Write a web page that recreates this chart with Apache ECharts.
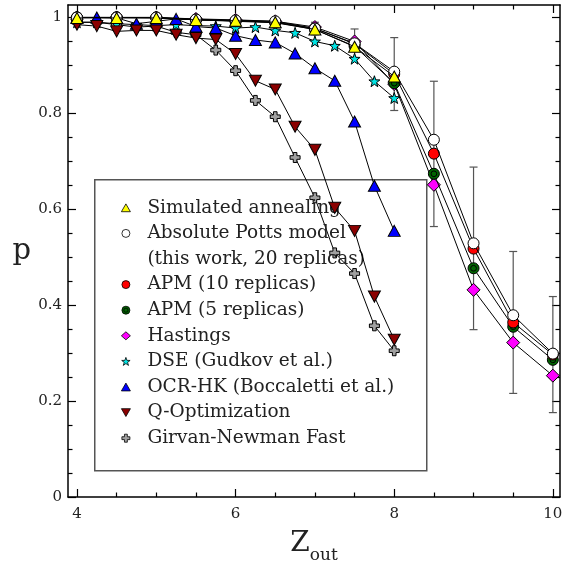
<!DOCTYPE html>
<html>
<head>
<meta charset="utf-8">
<script src="https://cdn.jsdelivr.net/npm/echarts@6/dist/echarts.min.js"></script>
<style>
  html, body { margin: 0; padding: 0; background: #fff; }
  #chart { width: 572px; height: 561px; }
</style>
</head>
<body>
<div id="chart"></div>
<script>
// Z_out grids: half-step sweep (APM runs) and quarter-step sweep (other methods)
const zHalf = [4, 4.5, 5, 5.5, 6, 6.5, 7, 7.5, 8, 8.5, 9, 9.5, 10];
const zQuarter = [4, 4.25, 4.5, 4.75, 5, 5.25, 5.5, 5.75, 6, 6.25, 6.5, 6.75, 7, 7.25, 7.5, 7.75, 8];

// fraction of correctly identified nodes, p
const simAnnealing = [0.999, 0.999, 0.999, 0.995, 0.993, 0.990, 0.975, 0.939, 0.877];
const apm20 = [1.000, 1.000, 1.000, 0.996, 0.994, 0.992, 0.977, 0.946, 0.887, 0.745, 0.529, 0.379, 0.299];
const apm10 = [1.000, 1.000, 1.000, 0.995, 0.993, 0.990, 0.977, 0.945, 0.882, 0.716, 0.518, 0.364, 0.297];
const apm5 = [1.000, 1.000, 0.999, 0.995, 0.992, 0.989, 0.975, 0.940, 0.863, 0.674, 0.477, 0.355, 0.286];
const hastings = [1.000, 1.000, 1.000, 0.997, 0.995, 0.992, 0.980, 0.950, 0.861, 0.651, 0.432, 0.322, 0.253];
const dse = [0.990, 0.990, 0.987, 0.985, 0.983, 0.985, 0.983, 0.982, 0.978, 0.980, 0.973, 0.968, 0.950, 0.941, 0.914, 0.867, 0.832];
const ocrHk = [1.000, 1.000, 0.999, 0.987, 0.992, 0.997, 0.981, 0.978, 0.962, 0.953, 0.948, 0.925, 0.894, 0.868, 0.783, 0.649, 0.555];
const qOpt = [0.985, 0.982, 0.971, 0.973, 0.973, 0.964, 0.957, 0.954, 0.924, 0.868, 0.850, 0.772, 0.724, 0.603, 0.555, 0.418, 0.328];
const girvanNewman = [0.990, 0.990, 0.985, 0.980, 0.982, 0.969, 0.964, 0.932, 0.889, 0.827, 0.793, 0.708, 0.624, 0.509, 0.466, 0.357, 0.305];

// error bars on APM (10 replicas)
const errZ = [6.5, 7, 7.5, 8, 8.5, 9, 9.5, 10];
const errLow = [0.982, 0.964, 0.915, 0.806, 0.564, 0.349, 0.216, 0.176];
const errHigh = [0.998, 0.990, 0.976, 0.958, 0.867, 0.688, 0.512, 0.418];

// axis ticks
const xMajor = [4, 6, 8, 10];
const xMinor = [4.5, 5, 5.5, 6.5, 7, 7.5, 8.5, 9, 9.5];
const yMajor = [0, 0.2, 0.4, 0.6, 0.8, 1];
const yMinor = [0.05, 0.1, 0.15, 0.25, 0.3, 0.35, 0.45, 0.5, 0.55, 0.65, 0.7, 0.75, 0.85, 0.9, 0.95];

const FONT = 'DejaVu Serif';
const X_MIN = 3.887, X_MAX = 10.09, Y_MIN = 0, Y_MAX = 1.026;

const SYM = {
  triUp: 'path://M5,0L10,8.7L0,8.7Z',
  triDown: 'path://M0,0L10,0L5,8.7Z',
  circle: 'circle',
  ring: 'path://M0,5A5,5,0,1,1,10,5A5,5,0,1,1,0,5Z M2.4,5A2.6,2.6,0,1,1,7.6,5A2.6,2.6,0,1,1,2.4,5Z',
  diamond: 'diamond',
  star: 'path://M5,0L6.18,3.38L9.76,3.45L6.9,5.62L7.94,9.05L5,7L2.06,9.05L3.1,5.62L0.24,3.45L3.82,3.38Z',
  cross: 'path://M3.2,0H6.8V3.2H10V6.8H6.8V10H3.2V6.8H0V3.2H3.2Z'
};

const COLORS = {
  sa: '#ffff00', apm20: '#ffffff', apm10: '#ff0000', apm5: '#006400', hast: '#ff00ff',
  dse: '#00e5e5', ocr: '#0000ff', qopt: '#8b0000', gn: '#a0a0a0'
};

function pairs(xs, ys) { return ys.map((y, i) => [xs[i], y]); }

function lineSeries(name, xs, ys, symbol, size, color, z) {
  return {
    name, type: 'line', data: pairs(xs, ys), symbol, symbolSize: size,
    showAllSymbol: true, clip: false, z,
    lineStyle: { color: '#000', width: 1 },
    itemStyle: { color, borderColor: '#000', borderWidth: 1 },
    emphasis: { disabled: true }
  };
}

function xAxisDef(position, ticks, len, withLine, withLabels) {
  return {
    type: 'value', position, min: X_MIN, max: X_MAX,
    axisLine: { show: withLine, onZero: false, lineStyle: { color: '#000', width: 1.5 } },
    axisTick: { show: true, inside: true, length: len, customValues: ticks, lineStyle: { color: '#000', width: 1.2 } },
    axisLabel: withLabels
      ? { show: true, customValues: ticks, margin: 10, fontFamily: FONT, fontSize: 15, color: '#222' }
      : { show: false },
    splitLine: { show: false }
  };
}

function yAxisDef(position, ticks, len, withLine, withLabels) {
  return {
    type: 'value', position, min: Y_MIN, max: Y_MAX,
    axisLine: { show: withLine, onZero: false, lineStyle: { color: '#000', width: 1.5 } },
    axisTick: { show: true, inside: true, length: len, customValues: ticks, lineStyle: { color: '#000', width: 1.2 } },
    axisLabel: withLabels
      ? { show: true, customValues: ticks, margin: 6, fontFamily: FONT, fontSize: 15, color: '#222',
          formatter: v => String(+v.toFixed(1)) }
      : { show: false },
    splitLine: { show: false }
  };
}

const xAxes = [
  xAxisDef('bottom', xMajor, 8, true, true),
  xAxisDef('bottom', xMinor, 4.5, false, false),
  xAxisDef('top', xMajor, 8, true, false),
  xAxisDef('top', xMinor, 4.5, false, false)
];
xAxes[0].name = '{z|Z}{s|out}';
xAxes[0].nameLocation = 'middle';
xAxes[0].nameGap = 33;
xAxes[0].nameTextStyle = {
  rich: {
    z: { fontFamily: FONT, fontSize: 28, color: '#222', verticalAlign: 'bottom' },
    s: { fontFamily: FONT, fontSize: 17, color: '#222', verticalAlign: 'bottom', padding: [0, 0, -6, 0] }
  }
};

const yAxes = [
  yAxisDef('left', yMajor, 8, true, true),
  yAxisDef('left', yMinor, 4.5, false, false),
  yAxisDef('right', yMajor, 8, true, false),
  yAxisDef('right', yMinor, 4.5, false, false)
];
yAxes[0].name = 'p';
yAxes[0].nameLocation = 'middle';
yAxes[0].nameRotate = 0;
yAxes[0].nameGap = 37;
yAxes[0].nameTextStyle = { fontFamily: FONT, fontSize: 29, color: '#222' };

const errorSeries = {
  type: 'custom', name: 'errorbars', z: 1, clip: false,
  data: errZ.map((z, i) => [z, errLow[i], errHigh[i]]),
  encode: { x: 0, y: [1, 2] },
  renderItem(params, api) {
    const z = api.value(0);
    const lo = api.coord([z, api.value(1)]);
    const hi = api.coord([z, api.value(2)]);
    const w = 4;
    const st = { stroke: '#555', lineWidth: 1.2 };
    return {
      type: 'group',
      children: [
        { type: 'line', shape: { x1: hi[0], y1: hi[1], x2: lo[0], y2: lo[1] }, style: st },
        { type: 'line', shape: { x1: hi[0] - w, y1: hi[1], x2: hi[0] + w, y2: hi[1] }, style: st },
        { type: 'line', shape: { x1: lo[0] - w, y1: lo[1], x2: lo[0] + w, y2: lo[1] }, style: st }
      ]
    };
  }
};

const NAMES = {
  sa: 'Simulated annealing',
  apm20: 'Absolute Potts model',
  apm20b: '(this work, 20 replicas)',
  apm10: 'APM (10 replicas)',
  apm5: 'APM (5 replicas)',
  hast: 'Hastings',
  dse: 'DSE (Gudkov et al.)',
  ocr: 'OCR-HK (Boccaletti et al.)',
  qopt: 'Q-Optimization',
  gn: 'Girvan-Newman Fast'
};

const series = [
  errorSeries,
  lineSeries(NAMES.gn, zQuarter, girvanNewman, SYM.cross, 10, COLORS.gn, 2),
  lineSeries(NAMES.dse, zQuarter, dse, SYM.star, 11, COLORS.dse, 3),
  lineSeries(NAMES.ocr, zQuarter, ocrHk, SYM.triUp, [12, 11], COLORS.ocr, 4),
  lineSeries(NAMES.qopt, zQuarter, qOpt, SYM.triDown, [12, 11], COLORS.qopt, 5),
  lineSeries(NAMES.hast, zHalf, hastings, SYM.diamond, 13, COLORS.hast, 6),
  lineSeries(NAMES.apm5, zHalf, apm5, SYM.ring, 11, COLORS.apm5, 7),
  lineSeries(NAMES.apm10, zHalf, apm10, SYM.circle, 11, COLORS.apm10, 8),
  lineSeries(NAMES.apm20, zHalf, apm20, SYM.circle, 11, COLORS.apm20, 9),
  lineSeries(NAMES.sa, zHalf.slice(0, simAnnealing.length), simAnnealing, SYM.triUp, [12, 11], COLORS.sa, 10),
  { name: NAMES.apm20b, type: 'line', data: [] }
];

function legendItem(name, icon, color) {
  const item = { name, icon };
  if (color) item.itemStyle = { color, borderColor: '#000', borderWidth: 0.8 };
  return item;
}

const chart = echarts.init(document.getElementById('chart'), null, { renderer: 'canvas' });
chart.setOption({
  animation: false,
  backgroundColor: '#fff',
  textStyle: { fontFamily: FONT },
  grid: { left: 68, right: 12, top: 5, bottom: 64, containLabel: false, outerBoundsMode: 'none' },
  xAxis: xAxes,
  yAxis: yAxes,
  graphic: [{
    type: 'rect', left: 94, top: 179, z: 0,
    shape: { width: 332, height: 291 },
    style: { fill: 'rgba(0,0,0,0)', stroke: '#555', lineWidth: 1.5 }
  }],
  legend: {
    orient: 'vertical', left: 116, top: 190,
    itemWidth: 9, itemHeight: 8, itemGap: 0,
    selectedMode: false,
    textStyle: { fontFamily: FONT, fontSize: 18.5, color: '#222', lineHeight: 25.6, padding: [0, 0, 0, 12] },
    data: [
      legendItem(NAMES.sa, SYM.triUp, COLORS.sa),
      legendItem(NAMES.apm20, 'circle', COLORS.apm20),
      legendItem(NAMES.apm20b, 'none', null),
      legendItem(NAMES.apm10, 'circle', COLORS.apm10),
      legendItem(NAMES.apm5, SYM.ring, COLORS.apm5),
      legendItem(NAMES.hast, 'diamond', COLORS.hast),
      legendItem(NAMES.dse, SYM.star, COLORS.dse),
      legendItem(NAMES.ocr, SYM.triUp, COLORS.ocr),
      legendItem(NAMES.qopt, SYM.triDown, COLORS.qopt),
      legendItem(NAMES.gn, SYM.cross, COLORS.gn)
    ]
  },
  series
});
</script>
</body>
</html>
